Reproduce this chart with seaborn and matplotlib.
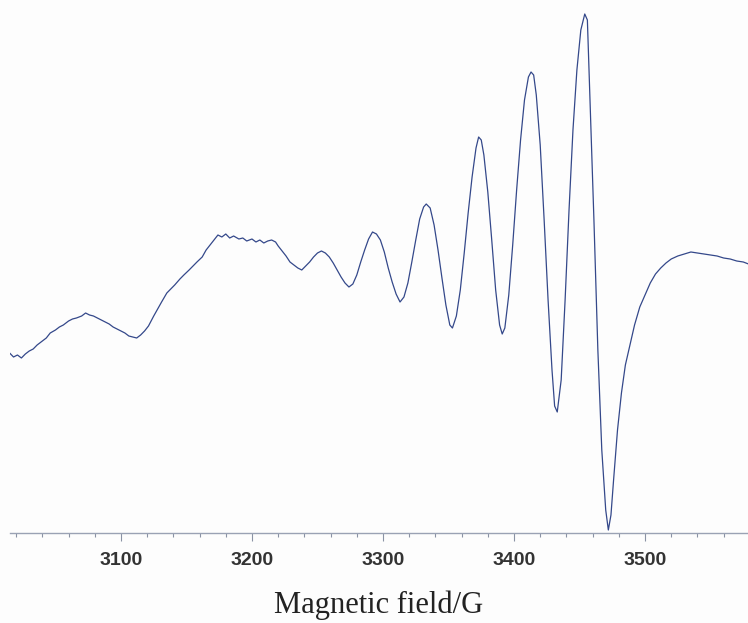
import matplotlib
matplotlib.use("Agg")
import matplotlib.pyplot as plt
from matplotlib.ticker import MultipleLocator
import pandas as pd
import seaborn as sns

# EPR first-derivative spectrum (magnetic field in gauss, signal in arbitrary units)
field = [3015, 3018, 3021, 3024, 3027, 3030, 3033, 3036, 3040, 3043, 3046, 3050, 3053, 3056,
         3060, 3063, 3066, 3070, 3073, 3076, 3079, 3082, 3085, 3088, 3091, 3094, 3097, 3100,
         3103, 3106, 3109, 3112, 3115, 3118, 3121, 3125, 3128, 3131, 3135, 3138, 3141, 3145,
         3148, 3152, 3155, 3158, 3162, 3165, 3168, 3171, 3174, 3177, 3180, 3183, 3186, 3190,
         3193, 3196, 3200, 3203, 3206, 3209, 3212, 3215, 3218, 3220, 3223, 3226, 3229, 3232,
         3235, 3238, 3241, 3244, 3247, 3250, 3253, 3256, 3259, 3262, 3265, 3268, 3271, 3274,
         3277, 3280, 3283, 3286, 3289, 3292, 3295, 3298, 3301, 3304, 3307, 3310, 3313, 3316,
         3319, 3322, 3325, 3328, 3331, 3333, 3336, 3339, 3342, 3345, 3348, 3351, 3353, 3356,
         3359, 3362, 3365, 3368, 3371, 3373, 3375, 3377, 3380, 3383, 3386, 3389, 3391, 3393,
         3396, 3399, 3402, 3405, 3408, 3411, 3413, 3415, 3417, 3420, 3423, 3426, 3429, 3431,
         3433, 3436, 3439, 3442, 3445, 3448, 3451, 3454, 3456, 3458, 3461, 3464, 3467, 3470,
         3472, 3474, 3476, 3479, 3482, 3485, 3488, 3492, 3496, 3500, 3504, 3508, 3512,
         3516, 3520, 3525, 3530, 3535, 3540, 3545, 3550, 3555, 3560, 3565, 3570, 3575, 3579]

signal = [-53, -57, -55, -58, -54, -51, -49, -45, -41, -38, -33, -30, -27, -25,
          -21, -19, -18, -16, -13, -15, -16, -18, -20, -22, -24, -27, -29, -31,
          -33, -36, -37, -38, -35, -31, -26, -16, -9, -2, 7, 11, 15, 21,
          25, 30, 34, 38, 43, 50, 55, 60, 65, 63, 66, 62, 64, 61,
          62, 59, 61, 58, 60, 57, 59, 60, 58, 54, 49, 44, 38, 35,
          32, 30, 34, 38, 43, 47, 49, 47, 43, 37, 30, 23, 17, 13,
          16, 25, 38, 50, 61, 68, 66, 60, 48, 32, 18, 6, -2, 3,
          17, 38, 60, 81, 93, 96, 92, 75, 50, 22, -5, -25, -28, -16,
          10, 47, 87, 123, 152, 163, 160, 145, 108, 60, 10, -25, -34, -28,
          5, 55, 110, 160, 200, 223, 228, 225, 205, 155, 80, 0, -70, -106,
          -112, -80, 0, 90, 170, 230, 270, 286, 280, 200, 80, -50, -150, -210,
          -230, -215, -180, -130, -93, -65, -48, -25, -7, 5, 17, 26, 32,
          37, 41, 44, 46, 48, 47, 46, 45, 44, 42, 41, 39, 38, 36]

major_ticks = [3100, 3200, 3300, 3400, 3500]
x_label = "Magnetic field/G"

sns.set_theme(style="white")

fig = plt.figure(figsize=(7.48, 6.23), dpi=100, facecolor="#fdfdfd")
ax = fig.add_axes([10 / 748, 1 - 533 / 623, 1 - 10 / 748, 533 / 623])
ax.set_facecolor("none")

df = pd.DataFrame({"field": field, "signal": signal})
sns.lineplot(data=df, x="field", y="signal", ax=ax, color="#34488a", linewidth=0.9)

ax.set_xlim(3015.3, 3578.6)
ax.set_ylim(-233, 300)

for side in ("top", "left", "right"):
    ax.spines[side].set_visible(False)
ax.spines["bottom"].set_color("#9aa2b4")
ax.spines["bottom"].set_linewidth(1.0)

ax.set_xticks(major_ticks)
ax.xaxis.set_minor_locator(MultipleLocator(20))
ax.set_yticks([])
ax.tick_params(axis="x", which="major", direction="out", length=6, width=0.8,
               color="#8a92a4", pad=8, labelsize=14, labelcolor="#333333")
ax.tick_params(axis="x", which="minor", direction="out", length=3, width=0.8,
               color="#8a92a4")
ax.tick_params(axis="x", which="both", bottom=True)
for lbl in ax.get_xticklabels():
    lbl.set_fontfamily("Liberation Sans")
    lbl.set_fontweight("bold")

ax.set_ylabel("")
ax.set_xlabel(x_label, fontfamily="Liberation Serif", fontsize=22,
              color="#222222", labelpad=15)

fig.savefig("out.png", dpi=100, facecolor=fig.get_facecolor())
